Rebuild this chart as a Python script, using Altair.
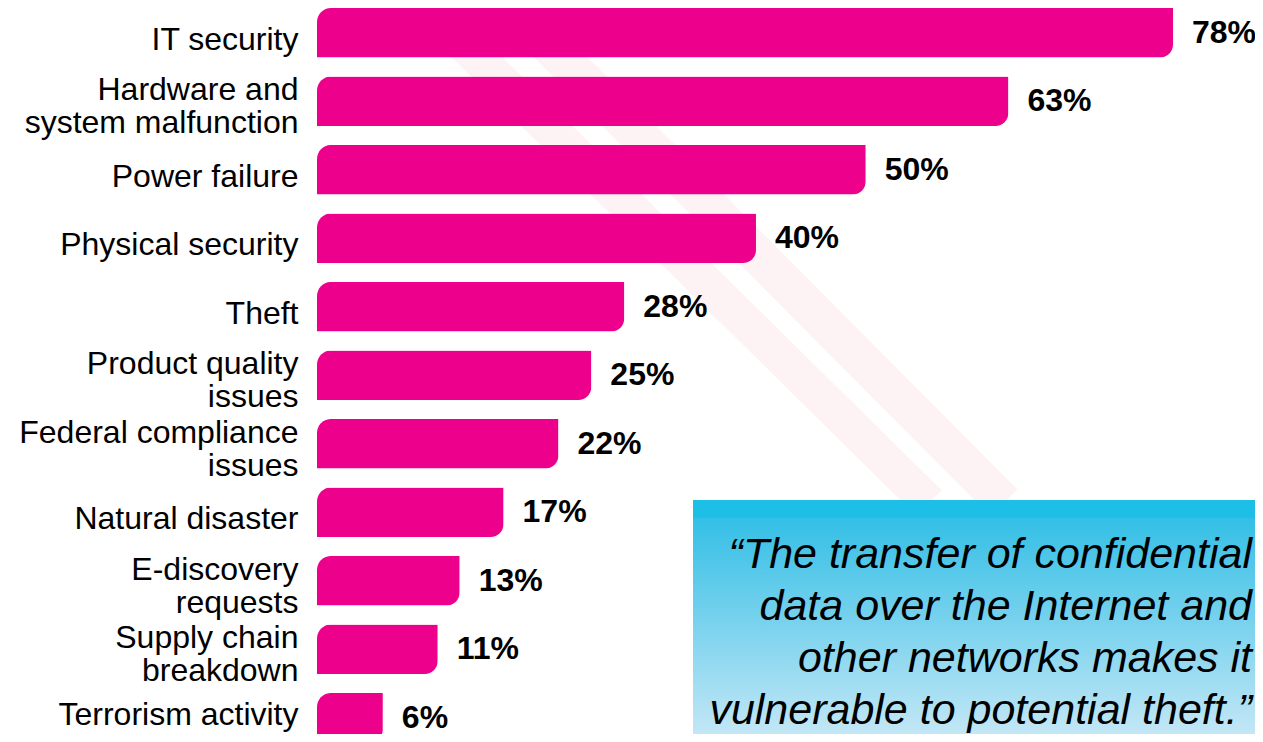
import altair as alt
import pandas as pd

categories = [
    "IT security",
    "Hardware and\nsystem malfunction",
    "Power failure",
    "Physical security",
    "Theft",
    "Product quality\nissues",
    "Federal compliance\nissues",
    "Natural disaster",
    "E-discovery\nrequests",
    "Supply chain\nbreakdown",
    "Terrorism activity",
]
values = [78, 63, 50, 40, 28, 25, 22, 17, 13, 11, 6]

quote_lines = [
    "\u201cThe transfer of confidential",
    "data over the Internet and",
    "other networks makes it",
    "vulnerable to potential theft.\u201d",
]

FONT = "Liberation Sans"
BAR_COLOR = "#EC008C"

df = pd.DataFrame({"category": categories, "value": values})
df["label"] = [f"{v}%" for v in values]

W, H = 938, 726          # visible chart area (page margin 8px on each side)
Y_RANGE = 734.5          # band range runs past the bottom edge, as in the slide

y_enc = alt.Y(
    "category:N",
    sort=categories,
    scale=alt.Scale(paddingInner=0.277, paddingOuter=0, range=[0, Y_RANGE]),
    axis=alt.Axis(
        title=None,
        domain=False,
        ticks=False,
        grid=False,
        labelFont=FONT,
        labelFontSize=32,
        labelColor="#000000",
        labelPadding=19,
        labelLimit=400,
        labelLineHeight=33,
        labelOffset={
            "condition": {"test": "indexof(datum.value, '\\n') >= 0", "value": -11},
            "value": 7,
        },
        labelBaseline={
            "condition": {"test": "datum.value == 'Terrorism activity'", "value": "alphabetic"},
            "value": "middle",
        },
        labelExpr="split(datum.label, '\\n')",
    ),
)
x_enc = alt.X("value:Q", scale=alt.Scale(domain=[0, 85.47]), axis=None)

# faint decorative diagonal stripes of the slide background
deco_df = pd.DataFrame({"k": [0]})
stripe_color = "#FDF2F4"
stripe1 = alt.Chart(deco_df).mark_rule(color=stripe_color, strokeWidth=36, strokeCap="butt").encode(
    x=alt.value(100), y=alt.value(-10), x2=alt.value(612), y2=alt.value(495)
)
stripe2 = alt.Chart(deco_df).mark_rule(color=stripe_color, strokeWidth=38, strokeCap="butt").encode(
    x=alt.value(185), y=alt.value(-10), x2=alt.value(687), y2=alt.value(495)
)

bars = alt.Chart(df).mark_bar(
    color=BAR_COLOR,
    cornerRadiusTopLeft=14,
    cornerRadiusBottomRight=13,
).encode(x=x_enc, y=y_enc)

value_labels = alt.Chart(df).mark_text(
    align="left",
    baseline="middle",
    dx=19,
    font=FONT,
    fontSize=32,
    fontWeight="bold",
    color="#000000",
).encode(x=x_enc, y=y_enc, text="label:N")

gradient = alt.Gradient(
    gradient="linear",
    stops=[
        alt.GradientStop(offset=0, color="#1EBFE6"),
        alt.GradientStop(offset=0.074, color="#1EBFE6"),
        alt.GradientStop(offset=0.076, color="#34BFE6"),
        alt.GradientStop(offset=1, color="#C8E8F6"),
    ],
    x1=0, x2=0, y1=0, y2=1,
)
box = alt.Chart(deco_df).mark_rect(color=gradient).encode(
    x=alt.value(376), x2=alt.value(946), y=alt.value(492), y2=alt.value(734)
)
quote = alt.Chart(deco_df).mark_text(
    align="right",
    baseline="alphabetic",
    lineBreak="\n",
    font=FONT,
    fontSize=43,
    fontStyle="italic",
    lineHeight=52,
    color="#000000",
).encode(x=alt.value(935), y=alt.value(560), text=alt.value("\n".join(quote_lines)))

chart = alt.layer(stripe1, stripe2, bars, value_labels, box, quote).properties(
    width=W,
    height=H,
    autosize=alt.AutoSizeParams(type="none"),
    padding={"left": 309, "top": 0, "right": 0, "bottom": 0},
    background="white",
).configure_view(stroke=None)

chart.save("out.html", embed_options={"renderer": "svg", "actions": False})
